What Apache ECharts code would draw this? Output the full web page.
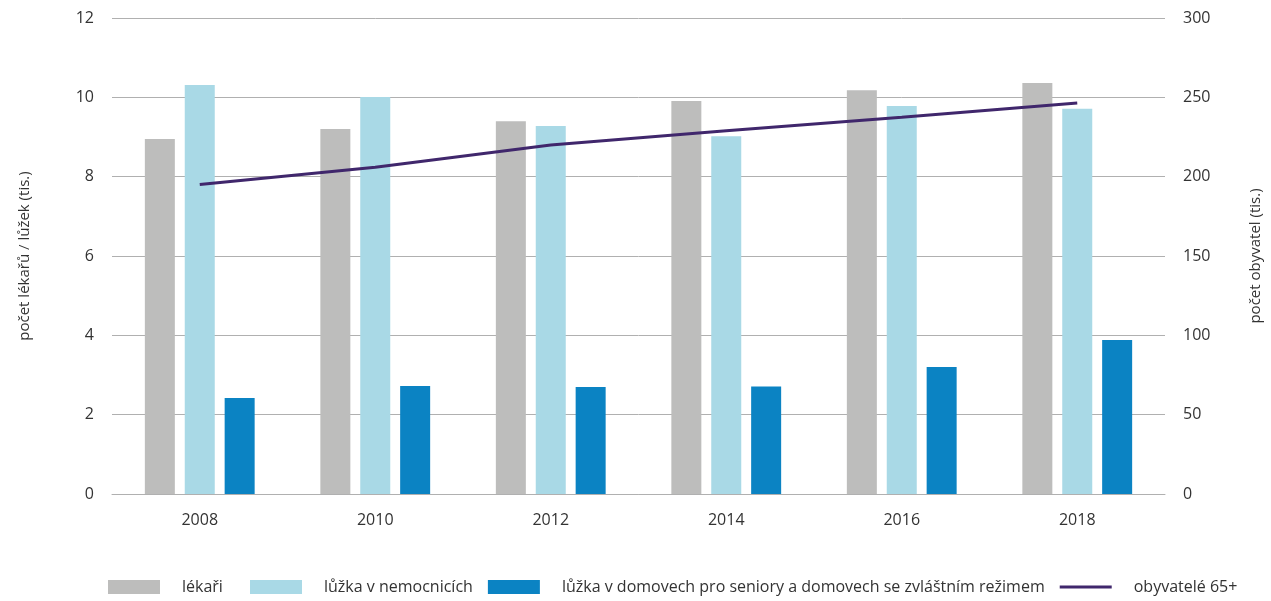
<!DOCTYPE html>
<html><head><meta charset="utf-8">
<script src="https://cdn.jsdelivr.net/npm/echarts@6/dist/echarts.min.js"></script>
<style>html,body{margin:0;padding:0;background:#fff}#c{width:1271px;height:601px}</style>
</head><body><div id="c"></div>
<script>
const years = ['2008','2010','2012','2014','2016','2018'];
const lekari = [8.95, 9.2, 9.4, 9.91, 10.18, 10.36];
const luzkaNemocnice = [10.31, 10.01, 9.28, 9.02, 9.78, 9.71];
const luzkaDomovy = [2.42, 2.72, 2.7, 2.71, 3.2, 3.88];
const obyvatele65 = [195, 206, 220, 229, 237.5, 246.5];
const leftTicks = {min:0, max:12, interval:2};
const rightTicks = {min:0, max:300, interval:50};

const FONT = 'Open Sans';
const chart = echarts.init(document.getElementById('c'));
const txt = {color:'#333', fontSize:16, fontFamily:FONT};
const legendBase = {
  bottom:1, itemWidth:52, itemHeight:14, itemGap:15,
  textStyle:{color:'#333', fontSize:16, fontFamily:FONT, padding:[0,0,0,17]}
};
chart.setOption({
  animation:false,
  textStyle:{fontFamily:FONT},
  grid:{left:112, right:98, top:18, bottom:107},
  legend:[
    Object.assign({left:103, data:[{name:'lékaři', icon:'rect'}]}, legendBase),
    Object.assign({left:245, data:[{name:'lůžka v nemocnicích', icon:'rect'},{name:'lůžka v domovech pro seniory a domovech se zvláštním režimem', icon:'rect'},{name:'obyvatelé 65+', icon:'path://M0,0 L52,0 L52,3 L0,3 Z'}]}, legendBase)
  ],
  xAxis:{type:'category', data:years, axisLine:{show:true, lineStyle:{color:'#b0b0b0'}}, axisTick:{show:false},
    axisLabel:Object.assign({margin:18}, txt)},
  yAxis:[
    {type:'value', min:leftTicks.min, max:leftTicks.max, interval:leftTicks.interval,
     name:'počet lékařů / lůžek (tis.)', nameLocation:'middle', nameGap:80, nameRotate:90,
     nameTextStyle:{color:'#333', fontSize:15, fontFamily:FONT},
     axisLine:{show:false}, axisTick:{show:false}, axisLabel:Object.assign({margin:18}, txt),
     splitLine:{lineStyle:{color:'#b0b0b0'}}},
    {type:'value', min:rightTicks.min, max:rightTicks.max, interval:rightTicks.interval, position:'right',
     name:'počet obyvatel (tis.)', nameLocation:'middle', nameGap:83, nameRotate:90,
     nameTextStyle:{color:'#333', fontSize:15, fontFamily:FONT},
     axisLine:{show:false}, axisTick:{show:false}, axisLabel:Object.assign({margin:18}, txt),
     splitLine:{show:false}}
  ],
  series:[
    {name:'lékaři', type:'bar', data:lekari, barWidth:30, barGap:'33%', itemStyle:{color:'#bdbdbc'}},
    {name:'lůžka v nemocnicích', type:'bar', data:luzkaNemocnice, barWidth:30, barGap:'33%', itemStyle:{color:'#a9d9e6'}},
    {name:'lůžka v domovech pro seniory a domovech se zvláštním režimem', type:'bar', data:luzkaDomovy, barWidth:30, barGap:'33%', itemStyle:{color:'#0b83c3'}},
    {name:'obyvatelé 65+', type:'line', yAxisIndex:1, data:obyvatele65, symbol:'none', lineStyle:{color:'#40276c', width:3}, itemStyle:{color:'#40276c'}}
  ]
});
</script></body></html>
